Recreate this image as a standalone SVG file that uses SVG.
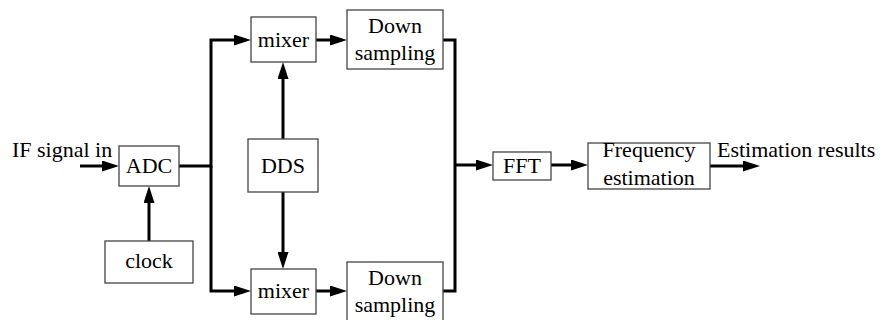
<svg xmlns="http://www.w3.org/2000/svg" width="888" height="320" viewBox="0 0 888 320">
<style>
.box{fill:#fff;stroke:#444;stroke-width:1.3}
.t{font-family:'Times New Roman','Liberation Serif',Tinos,'DejaVu Serif',serif;font-size:22px;fill:#000;text-anchor:middle}
.tl{font-family:'Times New Roman','Liberation Serif',Tinos,'DejaVu Serif',serif;font-size:22px;fill:#000}
.c{fill:none;stroke:#000;stroke-width:3}
</style>
<defs>
<marker id="ah" markerUnits="userSpaceOnUse" markerWidth="17" markerHeight="11" refX="7" refY="5.5" orient="auto">
<path d="M0,0 L17,5.5 L0,11 z" fill="#000"/>
</marker>
</defs>
<rect width="888" height="320" fill="#fff"/>
<g id="connectors">
<path class="c" d="M80,166 H109" marker-end="url(#ah)"/>
<path class="c" d="M179,166 H211 V40 H241" marker-end="url(#ah)"/>
<path class="c" d="M211,166 V291 H241" marker-end="url(#ah)"/>
<path class="c" d="M149,241 V196" marker-end="url(#ah)"/>
<path class="c" d="M283,139 V72" marker-end="url(#ah)"/>
<path class="c" d="M283,192 V259" marker-end="url(#ah)"/>
<path class="c" d="M316,40 H337" marker-end="url(#ah)"/>
<path class="c" d="M316,291 H337" marker-end="url(#ah)"/>
<path class="c" d="M443,40 H455 V291 H443"/>
<path class="c" d="M455,165 H483" marker-end="url(#ah)"/>
<path class="c" d="M551,165 H578" marker-end="url(#ah)"/>
<path class="c" d="M710,166 H750" marker-end="url(#ah)"/>
</g>
<g id="if-label"><text class="tl" x="12" y="157">IF signal in</text></g>
<g id="adc"><rect class="box" x="119" y="146" width="60" height="40"/><text class="t" x="149" y="173">ADC</text></g>
<g id="clock"><rect class="box" x="105" y="241" width="88" height="42"/><text class="t" x="149" y="268">clock</text></g>
<g id="mixer1"><rect class="box" x="251" y="17" width="65" height="45"/><text class="t" x="283.5" y="47">mixer</text></g>
<g id="mixer2"><rect class="box" x="251" y="269" width="65" height="45"/><text class="t" x="283.5" y="298">mixer</text></g>
<g id="dds"><rect class="box" x="248" y="139" width="70" height="53"/><text class="t" x="283" y="173">DDS</text></g>
<g id="down1"><rect class="box" x="347" y="10" width="96" height="59"/><text class="t" x="395" y="33">Down</text><text class="t" x="395" y="60">sampling</text></g>
<g id="down2"><rect class="box" x="347" y="262" width="96" height="59"/><text class="t" x="395" y="285">Down</text><text class="t" x="395" y="312">sampling</text></g>
<g id="fft"><rect class="box" x="493" y="152" width="58" height="28"/><text class="t" x="522" y="173">FFT</text></g>
<g id="freq"><rect class="box" x="588" y="143" width="122" height="46"/><text class="t" x="649" y="157">Frequency</text><text class="t" x="649" y="185">estimation</text></g>
<g id="out-label"><text class="tl" x="717" y="157">Estimation results</text></g>
</svg>
